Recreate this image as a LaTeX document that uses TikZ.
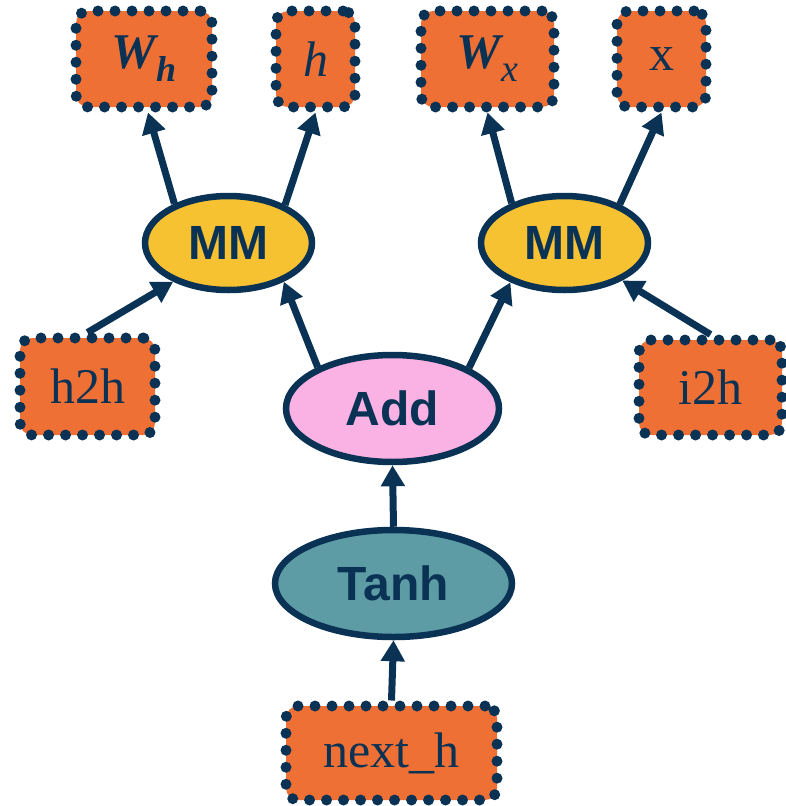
\documentclass[tikz,border=0pt]{standalone}
\usepackage{fontspec}
\setmainfont{Liberation Serif}
\setsansfont{Liberation Sans}
\usetikzlibrary{shapes.geometric,arrows.meta}
\definecolor{navy}{HTML}{0A3254}
\definecolor{leafor}{HTML}{EF7035}
\definecolor{mmyel}{HTML}{F7C232}
\definecolor{addpink}{HTML}{FAB1E4}
\definecolor{tanhteal}{HTML}{5D9BA5}
\tikzset{
  leaf/.style 2 args={draw=navy, fill=leafor, line width=11pt,
    dash pattern=on 0pt off 17pt, line cap=round, rounded corners=12pt,
    minimum width=#1, minimum height=#2, inner sep=0pt, text=navy,
    font=\fontsize{50}{54}\selectfont},
  op/.style n args={3}{ellipse, draw=navy, fill=#1, line width=6.5pt,
    minimum width=#2, minimum height=#3, inner sep=0pt, text=navy,
    font=\sffamily\bfseries\fontsize{48}{50}\selectfont},
  link/.style={draw=navy, line width=7pt,
    -{Triangle[length=21pt,width=23pt]}}
}
\begin{document}
\begin{tikzpicture}[x=1pt,y=-1pt]
\useasboundingbox (0,0) rectangle (786,806);

% operand boxes
\node[leaf={136pt}{96pt}] (wh) at (144,59)
  {{\bfseries\itshape W}\raisebox{-13pt}{\fontsize{36}{36}\selectfont\bfseries\itshape h}};
\node[leaf={79pt}{96pt}] (hh) at (315.5,59) {\itshape h};
\node[leaf={133pt}{96pt}] (wx) at (487.5,59)
  {{\bfseries\itshape W}\raisebox{-13pt}{\fontsize{38}{38}\selectfont\itshape x}};
\node[leaf={89pt}{96pt}] (xx) at (661.5,59) {x};
\node[leaf={135pt}{97pt}] (h2h) at (87.5,386.5) {h2h};
\node[leaf={143pt}{95pt}] (i2h) at (710.5,387.5) {i2h};
\node[leaf={211pt}{94pt}] (nexth) at (391.5,753) {next\_h};

% operations
\node[op={mmyel}{167pt}{94pt}] (mm1) at (228.5,243) {MM};
\node[op={mmyel}{167pt}{94pt}] (mm2) at (564.5,243) {MM};
\node[op={addpink}{213pt}{107pt}] (add) at (392.5,408.5) {Add};
\node[op={tanhteal}{237pt}{107pt}] (tanh) at (393.5,583.5) {Tanh};

% connectors
\draw[link] (nexth.north) -- (tanh.south);
\draw[link] (tanh.north) -- (add.south);
\draw[link] (add.151) -- (mm1.325);
\draw[link] (add.28) -- (mm2.216);
\draw[link] (mm1.144) -- ([xshift=4pt]wh.south);
\draw[link] (mm1.34) -- (hh.south);
\draw[link] (mm2.143) -- (wx.south);
\draw[link] (mm2.35) -- (xx.south);
\draw[link] (h2h.north) -- (mm1.215);
\draw[link] (i2h.north) -- (mm2.327);
\end{tikzpicture}
\end{document}
